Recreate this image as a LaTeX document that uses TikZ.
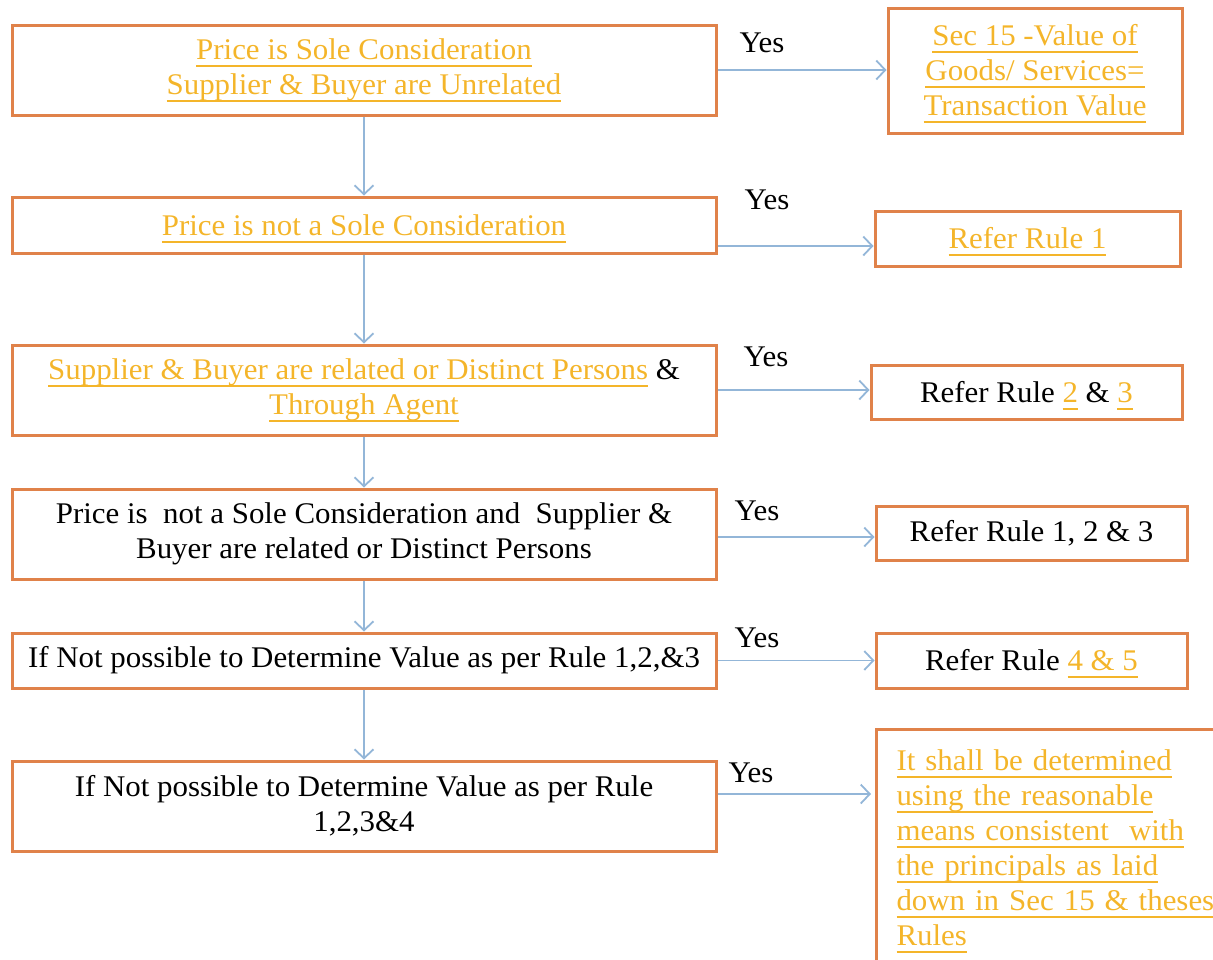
\documentclass[tikz,border=0pt]{standalone}
\usepackage{fontspec}
\setmainfont[FakeStretch=1.03]{Liberation Serif}
\usetikzlibrary{arrows.meta,positioning}
\definecolor{boxorange}{HTML}{E0824A}
\definecolor{linkgold}{HTML}{F4B52A}
\definecolor{flowblue}{HTML}{93B6D8}
\newcommand\lnk[1]{\textcolor{linkgold}{\setbox0\hbox{#1}\rlap{\smash{\vrule height -5.5pt depth 7.5pt width \wd0}}\box0}}

\tikzset{
  stepbox/.style={draw=boxorange, line width=3pt, rectangle, align=center, inner sep=0pt,
    font=\fontsize{30}{35}\selectfont},
  flow/.style={draw=flowblue, line width=1.8pt, -{Straight Barb[length=9pt,width=19pt]}},
  yes/.style={font=\fontsize{30}{30}\selectfont}
}

\begin{document}
\begin{tikzpicture}[x=1pt, y=-1pt]
\useasboundingbox (0,0) rectangle (1213,959);
\clip (0,0) rectangle (1213,959);
% left column
\node[stepbox, minimum width=704, minimum height=90] (l1) at (364,70)
  {\lnk{Price is Sole Consideration}\\ \lnk{Supplier \& Buyer are Unrelated}};
\node[stepbox, minimum width=704, minimum height=56] (l2) at (364,225)
  {\lnk{Price is not a Sole Consideration}};
\node[stepbox, minimum width=704, minimum height=90] (l3) at (364,390)
  {\lnk{Supplier \& Buyer are related or Distinct Persons} \&\\ \lnk{Through Agent}};
\node[stepbox, minimum width=704, minimum height=90] (l4) at (364,534)
  {Price is\ \ not a Sole Consideration and\ \ Supplier \&\\ Buyer are related or Distinct Persons};
\node[stepbox, minimum width=704, minimum height=55] (l5) at (364,660.5)
  {If Not possible to Determine Value as per Rule 1,2,\&3};
\node[stepbox, minimum width=704, minimum height=90] (l6) at (364,806)
  {If Not possible to Determine Value as per Rule\\ 1,2,3\&4};
% right column
\node[stepbox, minimum width=294, minimum height=125] (r1) at (1035,70.5)
  {\lnk{Sec 15 -Value of}\\ \lnk{Goods/ Services=}\\ \lnk{Transaction Value}};
\node[stepbox, minimum width=305, minimum height=55] (r2) at (1027.5,238.5)
  {\lnk{Refer Rule 1}};
\node[stepbox, minimum width=311, minimum height=54] (r3) at (1026.5,392)
  {Refer Rule \lnk{2} \& \lnk{3}};
\node[stepbox, minimum width=311, minimum height=54] (r4) at (1031.5,533)
  {Refer Rule 1, 2 \& 3};
\node[stepbox, minimum width=311, minimum height=55] (r5) at (1031.5,660.5)
  {Refer Rule \lnk{4 \& 5}};
\node[stepbox, anchor=north west, minimum height=236, text width=345, inner xsep=20pt, align=left] (r6) at (875,728)
  {\lnk{It shall be determined}\\ \lnk{using the reasonable}\\ \lnk{means consistent\ \ with}\\
   \lnk{the principals as laid}\\ \lnk{down in Sec 15 \& theses}\\ \lnk{Rules}};
% down the left column
\draw[flow] (l1) -- (l2);
\draw[flow] (l2) -- (l3);
\draw[flow] (l3) -- (l4);
\draw[flow] (l4) -- (l5);
\draw[flow] (l5) -- (l6);
% across to the right
\coordinate (a2) at ([yshift=-21pt]l2.east);
\coordinate (a6) at ([yshift=12pt]l6.east);
\draw[flow] (l1.east) -- (l1.east -| r1.west);
\draw[flow] (a2) -- (a2 -| r2.west);
\draw[flow] (l3.east) -- (l3.east -| r3.west);
\draw[flow] ([yshift=-3pt]l4.east) -- ([yshift=-3pt]l4.east -| r4.west);
\draw[flow] (l5.east) -- (l5.east -| r5.west);
\draw[flow, shorten >=4pt] (a6) -- (a6 -| r6.west);
\node[yes] (y1) at (762,43)  {Yes};
\node[yes] (y2) at (767,200) {Yes};
\node[yes] (y3) at (766,357) {Yes};
\node[yes] (y4) at (757,511) {Yes};
\node[yes] (y5) at (757,638) {Yes};
\node[yes] (y6) at (751,773) {Yes};
\end{tikzpicture}
\end{document}
